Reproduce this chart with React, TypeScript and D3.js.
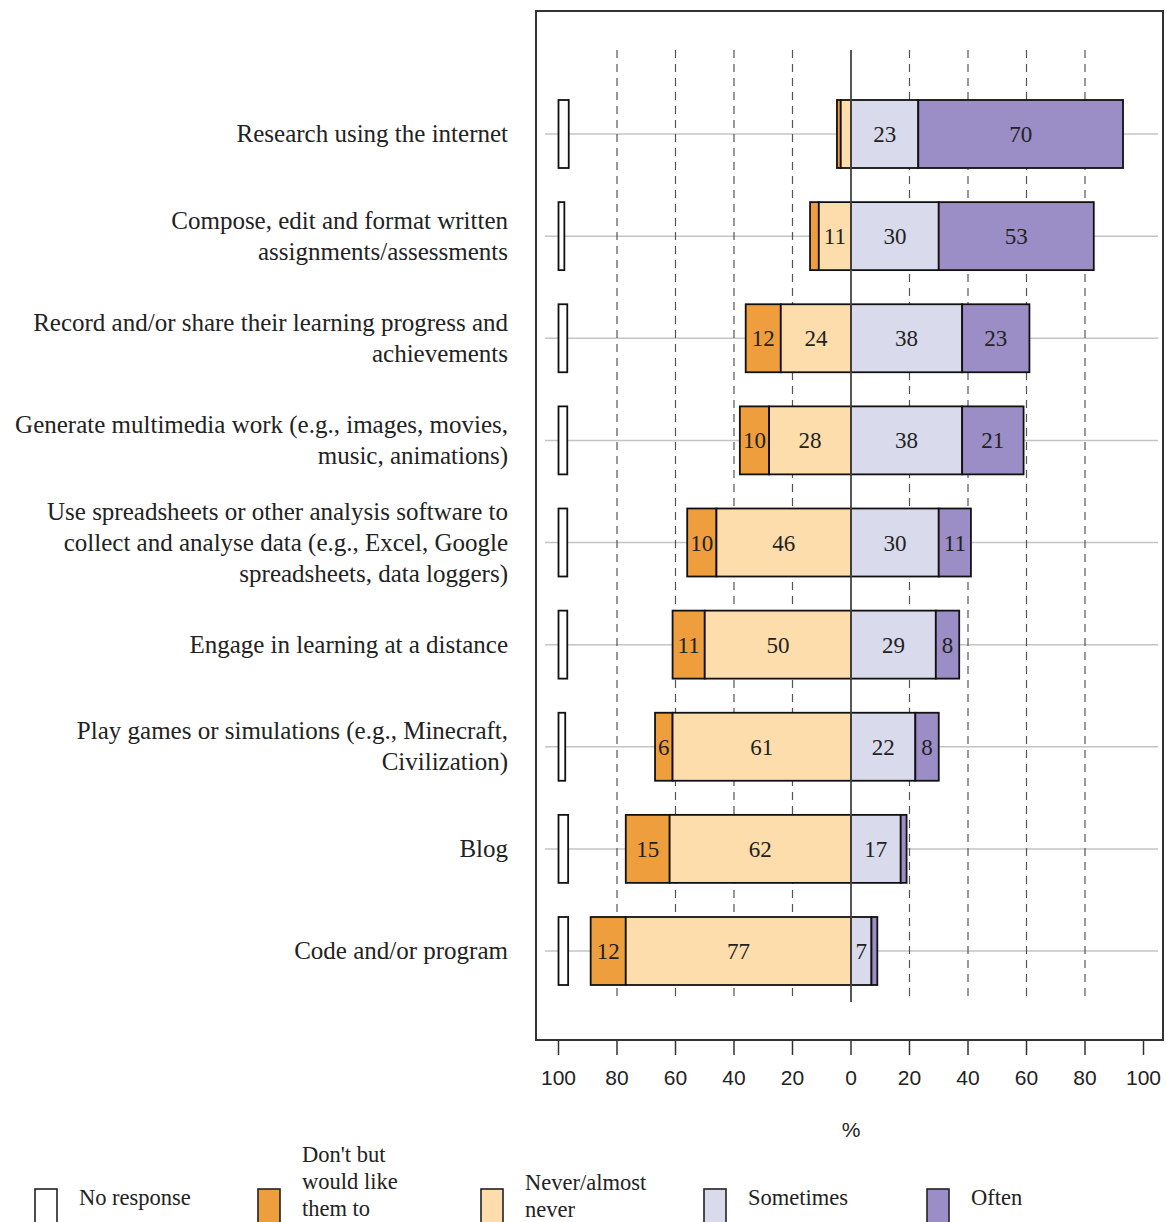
import React from "react";
import * as d3 from "d3";

const categories: string[][] = [
  ["Research using the internet"],
  ["Compose, edit and format written", "assignments/assessments"],
  ["Record and/or share their learning progress and", "achievements"],
  ["Generate multimedia work (e.g., images, movies,", "music, animations)"],
  ["Use spreadsheets or other analysis software to", "collect and analyse data (e.g., Excel, Google", "spreadsheets, data loggers)"],
  ["Engage in learning at a distance"],
  ["Play games or simulations (e.g., Minecraft,", "Civilization)"],
  ["Blog"],
  ["Code and/or program"],
];

const noResponse = [3.5, 2, 3, 3, 3, 3, 2.3, 3.3, 3.3];
const dontButWould = [1.3, 3, 12, 10, 10, 11, 6, 15, 12];
const neverAlmost = [3.5, 11, 24, 28, 46, 50, 61, 62, 77];
const sometimes = [23, 30, 38, 38, 30, 29, 22, 17, 7];
const often = [70, 53, 23, 21, 11, 8, 8, 2, 2];

const xTicks = [-100, -80, -60, -40, -20, 0, 20, 40, 60, 80, 100];
const gridTicks = [-80, -60, -40, -20, 20, 40, 60, 80];

const legendItems = [
  { lines: ["No response"], color: "#ffffff" },
  { lines: ["Don't but", "would like", "them to"], color: "#EE9E3C" },
  { lines: ["Never/almost", "never"], color: "#FDDDAB" },
  { lines: ["Sometimes"], color: "#D9DAEC" },
  { lines: ["Often"], color: "#9B8DC5" },
];

const COLORS = {
  nr: "#ffffff",
  dont: "#EE9E3C",
  never: "#FDDDAB",
  some: "#D9DAEC",
  often: "#9B8DC5",
};

export default function App() {
  const x = d3.scaleLinear().domain([-100, 100]).range([558.5, 1143.5]);
  const y = d3
    .scalePoint<number>()
    .domain(categories.map((_, i) => i))
    .range([134, 951]);
  const barH = 68;
  const serif = "'Liberation Serif', 'Times New Roman', serif";
  const sans = "'Liberation Sans', Arial, sans-serif";
  const boxL = 536, boxR = 1163, boxT = 11, boxB = 1040;

  return (
    <svg
      width={1167}
      height={1222}
      style={{ position: "absolute", left: 0, top: 0, background: "#fff" }}
    >
      <rect x={0} y={0} width={1167} height={1222} fill="#fff" />
      {categories.map((_, i) => (
        <line
          key={"rl" + i}
          x1={545}
          x2={1158}
          y1={y(i)!}
          y2={y(i)!}
          stroke="#c4c4c4"
          strokeWidth={1.5}
        />
      ))}
      {gridTicks.map((t) => (
        <line
          key={"g" + t}
          x1={x(t)}
          x2={x(t)}
          y1={50}
          y2={1002}
          stroke="#555"
          strokeWidth={1.2}
          strokeDasharray="8,6"
        />
      ))}
      {categories.map((_, i) => {
        const cy = y(i)!;
        const top = cy - barH / 2;
        const segs = [
          { a: -(neverAlmost[i] + dontButWould[i]), b: -neverAlmost[i], v: dontButWould[i], c: COLORS.dont },
          { a: -neverAlmost[i], b: 0, v: neverAlmost[i], c: COLORS.never },
          { a: 0, b: sometimes[i], v: sometimes[i], c: COLORS.some },
          { a: sometimes[i], b: sometimes[i] + often[i], v: often[i], c: COLORS.often },
        ];
        return (
          <g key={"b" + i}>
            <rect
              x={x(-100)}
              y={top}
              width={x(-100 + noResponse[i]) - x(-100)}
              height={barH}
              fill={COLORS.nr}
              stroke="#111"
              strokeWidth={1.8}
            />
            {segs.map((s, j) => (
              <rect
                key={j}
                x={x(s.a)}
                y={top}
                width={x(s.b) - x(s.a)}
                height={barH}
                fill={s.c}
                stroke="#111"
                strokeWidth={1.8}
              />
            ))}
            {segs.map((s, j) =>
              s.v >= 5 ? (
                <text
                  key={"t" + j}
                  x={(x(s.a) + x(s.b)) / 2}
                  y={cy + 8}
                  textAnchor="middle"
                  fontFamily={serif}
                  fontSize={23}
                  fill="#222"
                >
                  {Math.round(s.v)}
                </text>
              ) : null
            )}
          </g>
        );
      })}
      <line x1={x(0)} x2={x(0)} y1={50} y2={1002} stroke="#444" strokeWidth={1.8} />
      <rect
        x={boxL}
        y={boxT}
        width={boxR - boxL}
        height={boxB - boxT}
        fill="none"
        stroke="#333"
        strokeWidth={2}
      />
      {xTicks.map((t) => (
        <g key={"x" + t}>
          <line x1={x(t)} x2={x(t)} y1={boxB} y2={boxB + 15} stroke="#333" strokeWidth={1.5} />
          <text
            x={x(t)}
            y={1085}
            textAnchor="middle"
            fontFamily={sans}
            fontSize={21}
            fill="#222"
          >
            {Math.abs(t)}
          </text>
        </g>
      ))}
      <text x={x(0)} y={1137} textAnchor="middle" fontFamily={sans} fontSize={21} fill="#222">
        %
      </text>
      {categories.map((lines, i) => {
        const cy = y(i)!;
        const lh = 31;
        const start = cy + 8 - ((lines.length - 1) * lh) / 2;
        return (
          <text
            key={"c" + i}
            textAnchor="end"
            fontFamily={serif}
            fontSize={25}
            fill="#222"
          >
            {lines.map((l, k) => (
              <tspan key={k} x={508} y={start + k * lh}>
                {l}
              </tspan>
            ))}
          </text>
        );
      })}
      {legendItems.map((it, i) => {
        const bx = 35 + i * 223;
        const tx = bx + 44;
        const lh = 27;
        const start =
          it.lines.length === 3 ? 1162 : it.lines.length === 2 ? 1190 : 1205;
        return (
          <g key={"l" + i}>
            <rect x={bx} y={1189} width={22} height={40} fill={it.color} stroke="#222" strokeWidth={1.6} />
            <text fontFamily={serif} fontSize={22.5} fill="#222">
              {it.lines.map((l, k) => (
                <tspan key={k} x={tx} y={start + k * lh}>
                  {l}
                </tspan>
              ))}
            </text>
          </g>
        );
      })}
    </svg>
  );
}
